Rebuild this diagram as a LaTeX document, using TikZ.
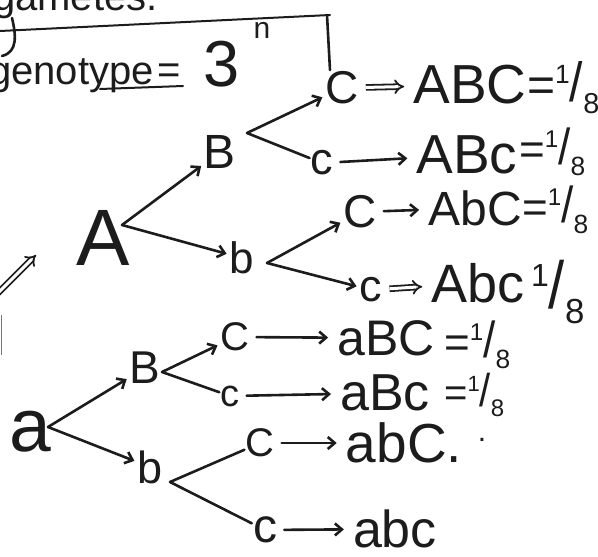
\documentclass[tikz,border=0pt]{standalone}
\usepackage{fontspec}
\setmainfont{Liberation Sans}
\usetikzlibrary{arrows.meta}
\newcommand\eighthfrac{\raisebox{.38em}{\scalebox{.55}{1}}\scalebox{1}[1.15]{/}\raisebox{-.25em}{\scalebox{.6}{8}}}
\definecolor{ink}{HTML}{1C1C1C}
\begin{document}
\begin{tikzpicture}[x=1pt,y=-1pt,
  txt/.style={inner sep=1pt, text=ink, font=\fontsize{#1pt}{#1pt}\selectfont},
  ln/.style={draw=ink, line width=2.6pt, line cap=round},
  arr/.style={ln, -{Straight Barb[length=7pt,width=12pt]}, shorten >=2pt},
  rowarr/.style={arr, shorten <=6pt, shorten >=8pt},
  dbl/.style={draw=ink, double=white, double distance=3pt, line width=1.8pt, -{Implies}},
  rowdbl/.style={dbl, shorten <=6pt, shorten >=8pt}]
\useasboundingbox (0,0) rectangle (598,557);
\clip (0,0) rectangle (598,557);
% heading fragments
\node[txt=40, anchor=base west] (gam) at (-8,10) {gametes.};
\draw[ln] (12,18) .. controls (16,35) and (18,52) .. (2,56);
\draw[ln, line width=2pt] (0,31) -- (330,15);
\draw[ln] (327,15) -- (330,70);
\node[txt=40, anchor=base west] (geno) at (-12,84) {genotype};
\draw[ln, line width=2pt] (100,89) -- (183,86);
\node[txt=40] (eq0) at (169,74) {=};
\node[txt=65, anchor=base] (three) at (222,86) {3};
\node[txt=30] (nexp) at (262,30) {n};
% left double arrow
\coordinate (L0) at (-2,293);
\coordinate (L1) at (36,255);
\draw[dbl] (L0) -- (L1);
\draw[draw=ink!60, line width=1pt] (1,315) -- (1,355);
% upper tree
\node[txt=80] (A) at (103,238) {A};
\node[txt=48] (B1) at (220,152) {B};
\node[txt=44] (b1) at (242,258) {b};
\coordinate (vA) at (122,225);
\coordinate (vB1) at (247,133);
\coordinate (vb1) at (267,263);
\node[txt=46] (C1) at (342,88) {C};
\node[txt=55] (G1) at (470,85) {ABC};
\node[txt=48, anchor=west] (E1) at (526,88) {=\eighthfrac};
\node[txt=45] (c2) at (322,163) {c};
\node[txt=55] (G2) at (467,155) {ABc};
\node[txt=44, anchor=west] (E2) at (518,152) {=\eighthfrac};
\node[txt=46] (C3) at (360,212) {C};
\node[txt=48] (G3) at (475,208) {AbC};
\node[txt=44, anchor=west] (E3) at (521,210) {=\eighthfrac};
\node[txt=45] (c4) at (371,290) {c};
\node[txt=54] (G4) at (478,283) {Abc};
\node[txt=58, anchor=west] (E4) at (530,292) {\eighthfrac};
\draw[arr] (vA) -- (B1);
\draw[arr] (vA) -- (b1);
\draw[arr] (vB1) -- (C1);
\draw[ln] (vB1) -- (c2);
\draw[arr] (vb1) -- (C3);
\draw[arr] (vb1) -- (c4);
\draw[rowdbl] (C1) -- (G1);
\draw[rowarr] (c2) -- (G2);
\draw[rowarr] (C3) -- (G3);
\draw[rowdbl] (c4) -- (G4);
% lower tree
\node[txt=75] (a) at (30,432) {a};
\node[txt=46] (B2) at (145,368) {B};
\node[txt=45] (b2) at (150,467) {b};
\coordinate (va) at (48,427);
\coordinate (vB2) at (162,372);
\coordinate (vb2) at (170,482);
\node[txt=40] (C5) at (235,337) {C};
\node[txt=50] (G5) at (386,338) {aBC};
\node[txt=44, anchor=west] (E5) at (443,345) {=\eighthfrac};
\node[txt=38] (c6) at (230,396) {c};
\node[txt=52] (G6) at (385,393) {aBc};
\node[txt=40, anchor=west] (E6) at (443,395) {=\eighthfrac};
\node[txt=40] (C7) at (260,443) {C};
\node[txt=55] (G7) at (404,443) {abC.};
\node[txt=30] (dot7) at (482,440) {.};
\node[txt=48] (c8) at (265,530) {c};
\node[txt=52] (G8) at (395,529) {abc};
\draw[arr] (va) -- (B2);
\draw[arr] (va) -- (b2);
\draw[arr] (vB2) -- (C5);
\draw[ln] (vB2) -- (c6);
\draw[ln] (vb2) -- (C7);
\draw[ln] (vb2) -- (c8);
\draw[rowarr] (C5) -- (G5);
\draw[rowarr] (c6) -- (G6);
\draw[rowarr] (C7) -- (G7);
\draw[rowarr] (c8) -- (G8);
\end{tikzpicture}
\end{document}
